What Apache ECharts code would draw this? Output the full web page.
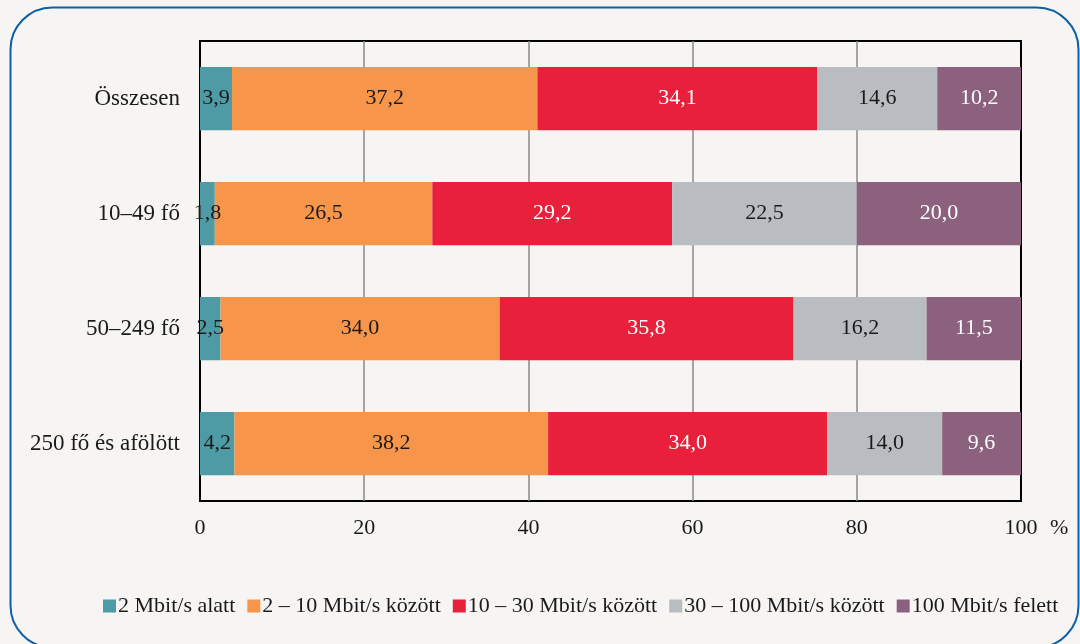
<!DOCTYPE html>
<html><head><meta charset="utf-8">
<script src="https://cdn.jsdelivr.net/npm/echarts@6/dist/echarts.min.js"></script>
<style>html,body{margin:0;padding:0;background:#f6f5f3}#c{width:1080px;height:644px}</style>
</head><body><div id="c"></div>
<script>
const categories = ['Összesen', '10–49 fő', '50–249 fő', '250 fő és afölött'];
const seriesNames = ['2 Mbit/s alatt', '2 – 10 Mbit/s között', '10 – 30 Mbit/s között', '30 – 100 Mbit/s között', '100 Mbit/s felett'];
const s1 = [3.9, 1.8, 2.5, 4.2];
const s2 = [37.2, 26.5, 34.0, 38.2];
const s3 = [34.1, 29.2, 35.8, 34.0];
const s4 = [14.6, 22.5, 16.2, 14.0];
const s5 = [10.2, 20.0, 11.5, 9.6];
const xTicks = [0, 20, 40, 60, 80, 100];

const colors = ['#4f9ba5', '#f7964a', '#e8203c', '#b9bdc1', '#8b617e'];
const labelColors = ['#1a1a1a', '#1a1a1a', '#ffffff', '#1a1a1a', '#ffffff'];
const font = '"Liberation Serif", "DejaVu Serif", serif';
const data = [s1, s2, s3, s4, s5];

const chart = echarts.init(document.getElementById('c'));
chart.setOption({
  backgroundColor: '#f6f5f3',
  animation: false,
  textStyle: { fontFamily: font },
  graphic: [
    { type: 'rect', shape: { x: 10.5, y: 7.5, width: 1068, height: 640, r: 42 },
      style: { fill: 'none', stroke: '#0f5ea8', lineWidth: 2 }, z: -1 },
    { type: 'text', x: 1050, y: 528, style: { text: '%', font: '22px ' + font, fill: '#1a1a1a', verticalAlign: 'middle' } }
  ],
  grid: { left: 200, right: 59, top: 41, bottom: 143, show: true, borderColor: '#000', borderWidth: 2, backgroundColor: 'transparent' },
  legend: {
    bottom: 22, left: 98, itemWidth: 13, itemHeight: 13, itemGap: 12, icon: 'rect',
    textStyle: { fontFamily: font, fontSize: 22, color: '#1a1a1a', padding: [0, 0, 0, -3] },
    data: seriesNames
  },
  xAxis: {
    type: 'value', min: 0, max: 100, interval: 20,
    axisLine: { show: false }, axisTick: { show: false },
    splitLine: { show: true, lineStyle: { color: ['#000', '#888', '#888', '#888', '#888', '#000'], width: 1.5 } },
    axisLabel: { fontFamily: font, fontSize: 22, color: '#1a1a1a', margin: 16,
      formatter: v => xTicks.includes(v) ? String(v) : '' }
  },
  yAxis: {
    type: 'category', data: categories, inverse: true,
    axisLine: { show: false }, axisTick: { show: false },
    axisLabel: { fontFamily: font, fontSize: 23, color: '#1a1a1a', margin: 20 }
  },
  series: seriesNames.map((n, i) => ({
    name: n, type: 'bar', stack: 'total', barWidth: '55%',
    itemStyle: { color: colors[i] },
    label: { show: true, position: 'inside', fontFamily: font, fontSize: 22, color: labelColors[i],
      formatter: p => p.value.toFixed(1).replace('.', ',') },
    data: data[i]
  }))
});
</script></body></html>
